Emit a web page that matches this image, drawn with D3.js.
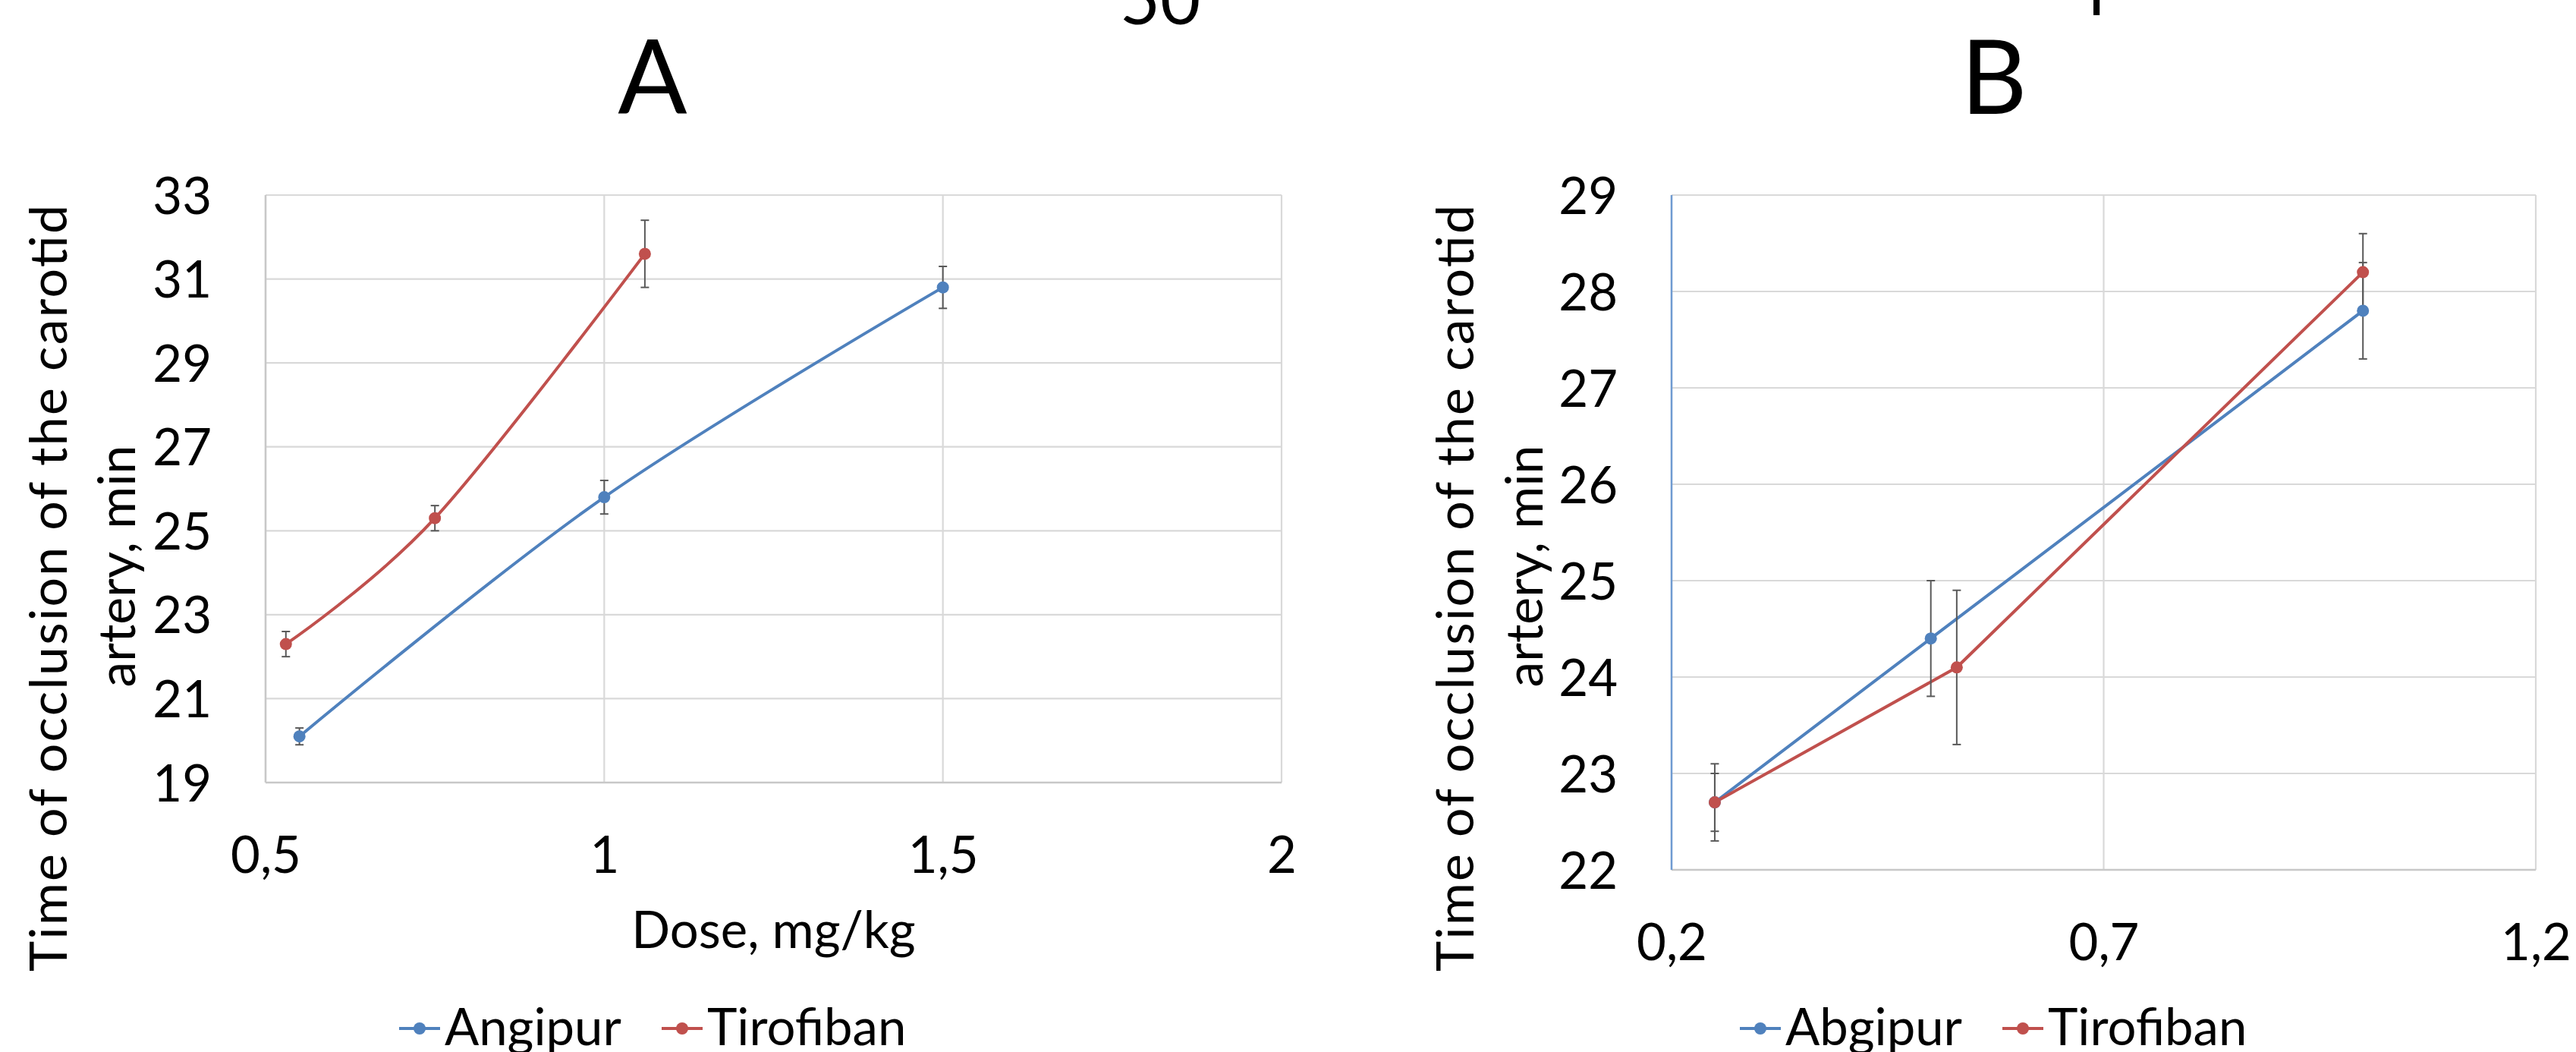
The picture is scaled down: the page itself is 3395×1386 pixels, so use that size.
<!DOCTYPE html>
<html>
<head>
<meta charset="utf-8">
<script src="https://cdn.jsdelivr.net/npm/d3@7"></script>
<style>
  body { margin: 0; background: #fff; }
  svg text { font-family: Lato, "Open Sans", sans-serif; fill: #000; }
</style>
</head>
<body>
<script>
// ---- data ----
// panel A
var doseA_angipur = [0.55, 1.0, 1.5];
var timeA_angipur = [20.1, 25.8, 30.8];
var errA_angipur = [0.2, 0.4, 0.5];

var doseA_tirofiban = [0.53, 0.75, 1.06];
var timeA_tirofiban = [22.3, 25.3, 31.6];
var errA_tirofiban = [0.3, 0.3, 0.8];

var xTicksA = [0.5, 1, 1.5, 2];
var yTicksA = [19, 21, 23, 25, 27, 29, 31, 33];

// panel B
var doseB_abgipur = [0.25, 0.5, 1.0];
var timeB_abgipur = [22.7, 24.4, 27.8];
var errB_abgipur = [0.3, 0.6, 0.5];

var doseB_tirofiban = [0.25, 0.53, 1.0];
var timeB_tirofiban = [22.7, 24.1, 28.2];
var errB_tirofiban = [0.4, 0.8, 0.4];

var xTicksB = [0.2, 0.7, 1.2];
var yTicksB = [22, 23, 24, 25, 26, 27, 28, 29];

var yTitle = ["Time of occlusion of the carotid", "artery, min"];

var blue = "#4f81bd", red = "#c0504d";

function zip(xs, ys, es) {
  return xs.map((x, i) => ({x: x, y: ys[i], e: es[i]}));
}

w = 3395;
h = 1386;

svg = d3.select("body")
  .append("svg")
    .attr("width", w)
    .attr("height", h);

svg.append("rect").attr("width", w).attr("height", h).attr("fill", "#fff");

// comma as decimal separator
var fmt = d3.formatLocale({decimal: ",", thousands: " ", grouping: [3], currency: ["", ""]}).format("~g");

// leftover bits of bigger text at the very top of the page
svg.append("text").attr("x", 1529).attr("y", 32).attr("text-anchor", "middle")
  .style("font-size", "92px").text("50");
svg.append("text").attr("x", 2763).attr("y", 20).attr("text-anchor", "middle")
  .style("font-size", "92px").text("l");

function drawPanel(p) {
  var g = svg.append("g");

  var x = d3.scaleLinear().domain(p.xDomain).range([p.left, p.right]);
  var y = d3.scaleLinear().domain(p.yDomain).range([p.bottom, p.top]);

  // panel letter
  g.append("text")
    .attr("x", p.titleX).attr("y", 150)
    .attr("text-anchor", "middle")
    .style("font-size", "135px")
    .text(p.title);

  //Grid
  g.selectAll(".hgrid")
    .data(p.yTicks)
    .enter().append("line")
      .attr("x1", p.left).attr("x2", p.right)
      .attr("y1", d => y(d)).attr("y2", d => y(d))
      .attr("stroke", "#d9d9d9").attr("stroke-width", 2.2);
  g.selectAll(".vgrid")
    .data(p.xTicks)
    .enter().append("line")
      .attr("x1", d => x(d)).attr("x2", d => x(d))
      .attr("y1", p.top).attr("y2", p.bottom)
      .attr("stroke", "#d9d9d9").attr("stroke-width", 2.2);

  // bottom axis line a bit darker
  g.append("line")
    .attr("x1", p.left).attr("x2", p.right)
    .attr("y1", p.bottom).attr("y2", p.bottom)
    .attr("stroke", "#c8c8c8").attr("stroke-width", 2.5);
  g.append("line")
    .attr("x1", p.left).attr("x2", p.left)
    .attr("y1", p.top).attr("y2", p.bottom)
    .attr("stroke", p.leftAxisColor).attr("stroke-width", 2.5);

  //Scale axis (labels only)
  var xAxis = g.append("g")
    .attr("transform", "translate(0," + p.bottom + ")")
    .call(d3.axisBottom(x).tickValues(p.xTicks).tickSize(0).tickPadding(71).tickFormat(fmt));
  var yAxis = g.append("g")
    .attr("transform", "translate(" + p.left + ",0)")
    .call(d3.axisLeft(y).tickValues(p.yTicks).tickSize(0).tickPadding(71).tickFormat(fmt));
  g.selectAll(".domain").remove();
  g.selectAll(".tick text")
    .style("font-size", "67px")
    .style("font-family", "Lato, sans-serif")
    .attr("fill", "#000");
  yAxis.selectAll(".tick text").attr("dy", "0.36em");

  // y title, two lines
  g.append("text")
    .attr("transform", "translate(" + p.yTitleX[0] + "," + p.yTitleY[0] + ") rotate(-90)")
    .attr("text-anchor", "middle")
    .attr("textLength", 1010)
    .attr("lengthAdjust", "spacing")
    .style("font-size", "68px")
    .text(yTitle[0]);
  g.append("text")
    .attr("transform", "translate(" + p.yTitleX[1] + "," + p.yTitleY[1] + ") rotate(-90)")
    .attr("text-anchor", "middle")
    .style("font-size", "68px")
    .text(yTitle[1]);

  if (p.xTitle) {
    g.append("text")
      .attr("x", (p.left + p.right) / 2).attr("y", 1249)
      .attr("text-anchor", "middle")
      .style("font-size", "67px")
      .text(p.xTitle);
  }

  var line = d3.line()
    .x(d => x(d.x))
    .y(d => y(d.y))
    .curve(p.curve);

  p.series.forEach(function(s) {
    g.append("path")
      .datum(s.data)
      .attr("d", line)
      .attr("fill", "none")
      .attr("stroke", s.color)
      .attr("stroke-width", 4);
  });

  // error bars
  p.series.forEach(function(s) {
    var eb = g.append("g").attr("stroke", "#595959").attr("stroke-width", 2);
    eb.selectAll(".v").data(s.data).enter().append("line")
      .attr("x1", d => x(d.x)).attr("x2", d => x(d.x))
      .attr("y1", d => y(d.y - d.e)).attr("y2", d => y(d.y + d.e));
    eb.selectAll(".t").data(s.data).enter().append("line")
      .attr("x1", d => x(d.x) - 5.5).attr("x2", d => x(d.x) + 5.5)
      .attr("y1", d => y(d.y + d.e)).attr("y2", d => y(d.y + d.e));
    eb.selectAll(".b").data(s.data).enter().append("line")
      .attr("x1", d => x(d.x) - 5.5).attr("x2", d => x(d.x) + 5.5)
      .attr("y1", d => y(d.y - d.e)).attr("y2", d => y(d.y - d.e));
  });

  p.series.forEach(function(s) {
    g.selectAll(null)
      .data(s.data)
      .enter()
      .append("circle")
        .attr("cx", d => x(d.x))
        .attr("cy", d => y(d.y))
        .attr("r", 8)
        .attr("fill", s.color);
  });

  // legend
  var lg = g.append("g").attr("transform", "translate(" + p.legendX + ",1355)");
  var off = 0;
  p.series.forEach(function(s, i) {
    var item = lg.append("g").attr("transform", "translate(" + off + ",0)");
    item.append("line").attr("x1", 0).attr("x2", 54).attr("y1", 0).attr("y2", 0)
      .attr("stroke", s.color).attr("stroke-width", 4);
    item.append("circle").attr("cx", 27).attr("cy", 0).attr("r", 8).attr("fill", s.color);
    item.append("text").attr("x", 60).attr("y", 22).style("font-size", "67px").text(s.name);
    off = p.legendGap[i];
  });
}

drawPanel({
  title: "A", titleX: 860,
  left: 350, right: 1689, top: 257, bottom: 1031,
  xDomain: [0.5, 2], yDomain: [19, 33],
  xTicks: xTicksA, yTicks: yTicksA,
  leftAxisColor: "#c8c8c8",
  yTitleX: [88, 178], yTitleY: [775, 746],
  xTitle: "Dose, mg/kg",
  curve: d3.curveCatmullRom.alpha(0),
  legendX: 526, legendGap: [346],
  series: [
    {name: "Angipur", color: blue, data: zip(doseA_angipur, timeA_angipur, errA_angipur)},
    {name: "Tirofiban", color: red, data: zip(doseA_tirofiban, timeA_tirofiban, errA_tirofiban)}
  ]
});

drawPanel({
  title: "B", titleX: 2628,
  left: 2203, right: 3342, top: 257, bottom: 1146,
  xDomain: [0.2, 1.2], yDomain: [22, 29],
  xTicks: xTicksB, yTicks: yTicksB,
  leftAxisColor: "#6f9bd1",
  yTitleX: [1942, 2033], yTitleY: [775, 746],
  xTitle: null,
  curve: d3.curveLinear,
  legendX: 2293, legendGap: [346],
  series: [
    {name: "Abgipur", color: blue, data: zip(doseB_abgipur, timeB_abgipur, errB_abgipur)},
    {name: "Tirofiban", color: red, data: zip(doseB_tirofiban, timeB_tirofiban, errB_tirofiban)}
  ]
});
</script>
</body>
</html>
